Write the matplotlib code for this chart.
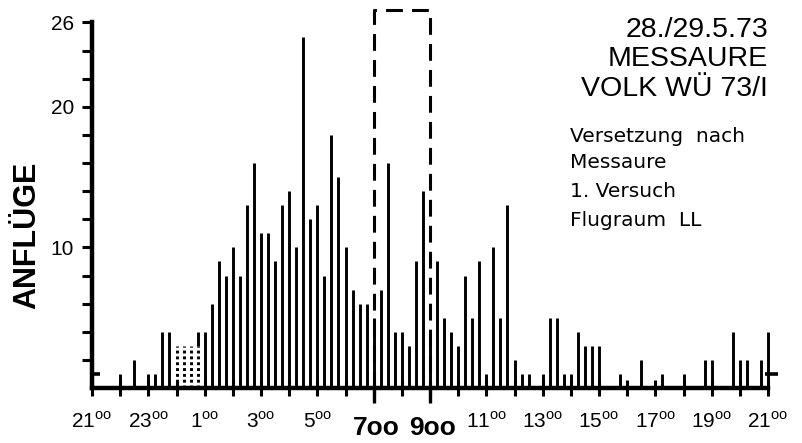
import matplotlib.pyplot as plt
import numpy as np

plt.rcParams['font.family'] = 'Liberation Sans'
plt.rcParams['mathtext.fontset'] = 'custom'
plt.rcParams['mathtext.rm'] = 'Liberation Sans'

# Anflüge je Viertelstunde, 21:15 (28.5.) bis 21:00 (29.5.), je Zeile eine Stunde
anfluege = [0, 0, 0, 1,      # 21
            0, 2, 0, 1,      # 22
            1, 4, 4, 3,      # 23
            3, 3, 4, 4,      # 0
            6, 9, 8, 10,     # 1
            8, 13, 16, 11,   # 2
            11, 9, 13, 14,   # 3
            10, 25, 12, 13,  # 4
            8, 18, 15, 10,   # 5
            7, 6, 6, 5,      # 6
            7, 16, 4, 4,     # 7
            3, 9, 14, 4,     # 8
            9, 5, 4, 3,      # 9
            8, 5, 9, 1,      # 10
            10, 5, 13, 2,    # 11
            1, 1, 0, 1,      # 12
            5, 5, 1, 1,      # 13
            4, 3, 3, 3,      # 14
            0, 0, 1, 0,      # 15
            0, 2, 0, 0,      # 16
            1, 0, 0, 1,      # 17
            0, 0, 2, 2,      # 18
            0, 0, 4, 2,      # 19
            2, 0, 2, 4]      # 20

# gepunktete Anteile (0:00 - 0:45)
punktiert_idx = [11, 12, 13, 14]
punktiert_hoehe = [3, 3, 3, 3]

stunden_labels = [21, 23, 1, 3, 5, 7, 9, 11, 13, 15, 17, 19, 21]
fenster = (10, 12)  # 7:00 - 9:00, Stunden nach 21:00

titel = ['28./29.5.73', 'MESSAURE', 'VOLK WÜ 73/I']
notiz = ['Versetzung  nach', 'Messaure', '1. Versuch', 'Flugraum  LL']

anfluege = np.array(anfluege)
zeit = (np.arange(len(anfluege)) + 1) * 0.25

fig = plt.figure(figsize=(8.02, 4.43), dpi=100)
ax = fig.add_axes([92/802, 55/443, 676/802, 388/443])
ax.set_xlim(0, 24)
ax.set_ylim(0, 27.6)

unten = np.zeros(len(anfluege))
unten[punktiert_idx] = punktiert_hoehe
ax.vlines(zeit, unten, anfluege, color='k', lw=2.1, clip_on=False)
ax.vlines(zeit[punktiert_idx], 0, punktiert_hoehe, color='k', lw=2.1,
          linestyles=[(0, (1, 1.0))])

# Zeitfenster gestrichelt
ax.plot([fenster[0], fenster[0], fenster[1], fenster[1]], [0, 26.9, 26.9, 0],
        color='k', lw=2.2, dashes=(5.5, 3.0), clip_on=False)

for s in ['top', 'right']:
    ax.spines[s].set_visible(False)
ax.spines['left'].set_bounds(0, 26)
ax.spines['left'].set_linewidth(3.2)
ax.spines['bottom'].set_linewidth(3.2)

yt = list(range(2, 27, 2))
ax.set_yticks(yt)
ax.set_yticklabels([str(v) if v in (10, 20, 26) else '' for v in yt])
ax.tick_params(axis='y', direction='out', length=7, width=2.2, labelsize=15, pad=6)

xt = list(range(0, 25))
xl = [''] * 25
for k, h in enumerate(stunden_labels):
    if 2*k not in fenster:
        xl[2*k] = f'{h}' + r'$^{\mathrm{oo}}$'
ax.set_xticks(xt)
ax.set_xticklabels(xl)
ax.tick_params(axis='x', direction='inout', length=11, width=2.2, labelsize=15, pad=11)

for k, h in enumerate(stunden_labels):
    if 2*k in fenster:
        ax.text(2*k + 0.1, -3.35, f'{h}oo', ha='center', va='baseline',
                fontsize=19, fontweight='bold', clip_on=False)
ax.vlines(list(fenster), -1.1, 0, color='k', lw=2.4, clip_on=False)

# kurze Marken bei 1
ax.hlines(1, -0.08, 0.3, color='k', lw=2.6, clip_on=False)
ax.hlines(1, 23.9, 24.35, color='k', lw=2.6, clip_on=False)

fig.text(27/802, 1 - 235/443, 'ANFLÜGE', rotation=90, ha='center', va='center',
         fontsize=22, fontweight='bold')

for txt, yb in zip(titel, [37, 66, 96]):
    fig.text(768/802, 1 - yb/443, txt, ha='right', va='baseline', fontsize=20.5)
for txt, yb in zip(notiz, [142, 168, 197, 226]):
    fig.text(570/802, 1 - yb/443, txt, ha='left', va='baseline', fontsize=14.5,
             family='DejaVu Sans')

fig.savefig('out.png', dpi=100)
